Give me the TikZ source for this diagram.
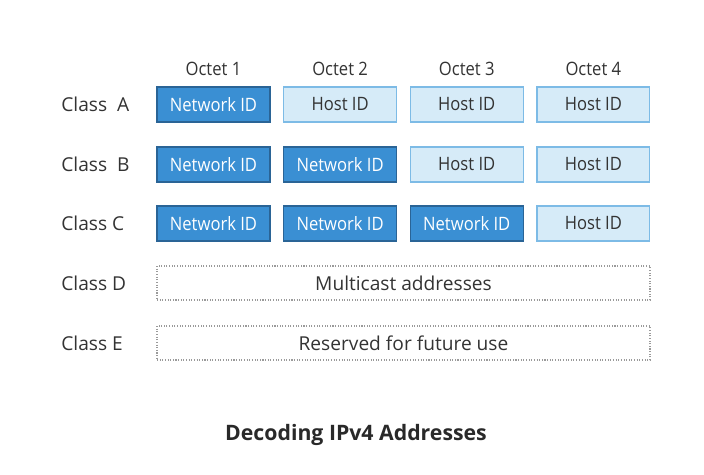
\documentclass[tikz,border=0pt]{standalone}
\usepackage{xcolor}
\usepackage{fontspec}
\setmainfont{Open Sans}
\newfontfamily\narrowfont[FakeStretch=0.9]{Open Sans}
\usepackage{tikz}
\usetikzlibrary{positioning}
\definecolor{netfill}{HTML}{3A8FD3}
\definecolor{netdraw}{HTML}{2A6496}
\definecolor{hostfill}{HTML}{D6EBF8}
\definecolor{hostdraw}{HTML}{7DBBE6}
\definecolor{dotdraw}{HTML}{9A9A9A}
\definecolor{textgray}{HTML}{333333}
\tikzstyle{netid} = [rectangle, minimum height=0.7cm, minimum width=2.26cm, text centered, fill=netfill, draw=netdraw, text=white, line width=0.7pt]
\tikzstyle{hostid} = [rectangle, minimum height=0.7cm, minimum width=2.26cm, text centered, fill=hostfill, draw=hostdraw, text=textgray, line width=0.7pt]
\tikzstyle{reserved} = [rectangle, minimum height=0.68cm, minimum width=9.86cm, text centered, draw=dotdraw, line width=0.9pt, dash pattern=on 0.6pt off 0.9pt, text=textgray, font=\rmfamily\fontsize{10.9}{12}\selectfont]
\tikzstyle{classlabel} = [anchor=west, inner sep=0pt, text=textgray, font=\rmfamily\fontsize{10.9}{12}\selectfont]
\tikzstyle{octet} = [text=textgray]

\begin{document}
\begin{tikzpicture}[x=0.02cm, y=-0.02cm, node distance=2.533cm, font=\narrowfont\fontsize{10.5}{12}\selectfont]
    \useasboundingbox (0,0) rectangle (704,475);

    % class A
    \node (a1) [netid] at (213.5,104.5) {Network ID};
    \node (a2) [hostid, right of=a1] {Host ID};
    \node (a3) [hostid, right of=a2] {Host ID};
    \node (a4) [hostid, right of=a3] {Host ID};

    % class B
    \node (b1) [netid, below of=a1, node distance=1.2cm] {Network ID};
    \node (b2) [netid, right of=b1] {Network ID};
    \node (b3) [hostid, right of=b2] {Host ID};
    \node (b4) [hostid, right of=b3] {Host ID};

    % class C
    \node (c1) [netid, below of=b1, node distance=1.18cm] {Network ID};
    \node (c2) [netid, right of=c1] {Network ID};
    \node (c3) [netid, right of=c2] {Network ID};
    \node (c4) [hostid, right of=c3] {Host ID};

    % class D and E
    \node (multicast) [reserved] at (403.5,283) {Multicast addresses};
    \node (future) [reserved] at (403.5,343) {Reserved for future use};

    % octets
    \node (o1) [octet, above of=a1, node distance=0.71cm] {Octet 1};
    \node (o2) [octet, above of=a2, node distance=0.71cm] {Octet 2};
    \node (o3) [octet, above of=a3, node distance=0.71cm] {Octet 3};
    \node (o4) [octet, above of=a4, node distance=0.71cm] {Octet 4};

    % classes
    \node (classa) [classlabel] at (61,104.5) {Class\ \ A};
    \node (classb) [classlabel] at (61,164.5) {Class\ \ B};
    \node (classc) [classlabel] at (61,223.5) {Class C};
    \node (classd) [classlabel] at (61,283) {Class D};
    \node (classe) [classlabel] at (61,343) {Class E};

    \node (title) at (356,435) {\rmfamily\fontsize{12.1}{14}\selectfont\bfseries\color{textgray!80!black} Decoding IPv4 Addresses};
\end{tikzpicture}
\end{document}
